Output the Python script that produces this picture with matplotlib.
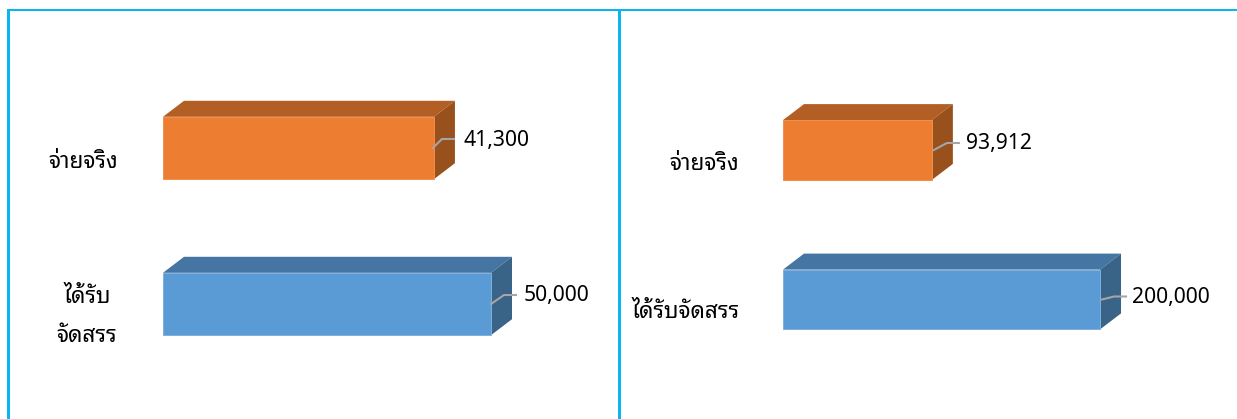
import matplotlib
matplotlib.use("Agg")
import matplotlib.pyplot as plt
from matplotlib.patches import Polygon, Rectangle

W, H = 1237, 419

plt.rcParams['font.family'] = ['Noto Sans', 'Noto Sans Thai Looped', 'Noto Sans Thai', 'Anuphan', 'DejaVu Sans']

# data, bottom bar first
left_labels = ["ได้รับ\nจัดสรร", "จ่ายจริง"]
left_values = [50000, 41300]
right_labels = ["ได้รับจัดสรร", "จ่ายจริง"]
right_values = [200000, 93912]

# front, top and side colours of the boxes
blue = ["#5B9BD5", "#4575A2", "#3A6388"]
orange = ["#ED7D31", "#B35E25", "#98501C"]
line_blue = "#7FB1DE"
line_orange = "#F08F4E"
border = "#0AB6F2"
leader = "#A5A5A5"


def box_chart(rect, xmax, labels, values, label_pos, value_pos, leaders, linespacing=1.0):
    # rect is left, top, right, bottom in picture pixels
    x0, top, x1, bottom = rect
    ax = fig.add_axes([x0 / W, 1 - bottom / H, (x1 - x0) / W, (bottom - top) / H])
    ax.set_xlim(0, xmax)
    ax.set_ylim(-0.5, 1.5)
    ax.axis("off")

    # pixels to data units on this axes
    px = xmax / (x1 - x0)
    py = 2 / (bottom - top)
    dx, dy = 21 * px, 16 * py
    h = 0.4

    for i, val in enumerate(values):
        front, topc, side = blue if i == 0 else orange
        edge = line_blue if i == 0 else line_orange
        lo, hi = i - h / 2, i + h / 2
        ax.barh(i, val, height=h, color=front, edgecolor=edge, linewidth=0.7, zorder=3)
        ax.add_patch(Polygon([(0, hi), (val, hi), (val + dx, hi + dy), (dx, hi + dy)],
                             facecolor=topc, edgecolor="none", zorder=2, clip_on=False))
        ax.add_patch(Polygon([(val, lo), (val + dx, lo + dy), (val + dx, hi + dy), (val, hi)],
                             facecolor=side, edgecolor="none", zorder=2, clip_on=False))

        # leader line, bent, from the end of the bar to the value
        pts = leaders[i]
        ax.plot([val + p[0] * px for p in pts], [i + p[1] * py for p in pts],
                color=leader, lw=1.5, zorder=4, clip_on=False, solid_joinstyle="round")
        ax.annotate(f"{val:,}", xy=(val, i), xytext=value_pos[i], textcoords="offset pixels",
                    ha="left", va="center", fontsize=15.2, color="black", annotation_clip=False)

        ax.annotate(labels[i], xy=(0, i), xytext=label_pos[i], textcoords="offset pixels",
                    ha="center", va="center", fontsize=16.2, color="black",
                    linespacing=linespacing, annotation_clip=False)
    return ax


fig = plt.figure(figsize=(W / 100, H / 100), dpi=100, facecolor="white")

box_chart((163, 70, 589.4, 382), 65000, left_labels, left_values,
          label_pos=[(-76, -13), (-80, -14)],
          value_pos=[(33, 8.5), (30, 8)],
          leaders=[[(0, 0), (13, 9), (25, 9)], [(-1, 0), (8, 9), (20, 9)]],
          linespacing=2.15)

box_chart((783, 75.25, 1211, 374.25), 270000, right_labels, right_values,
          label_pos=[(-97, -13), (-79, -14)],
          value_pos=[(32, 2), (34, 6.5)],
          leaders=[[(2, 0), (14, 3), (26, 3)], [(2, 0), (15, 7), (27, 7)]])

# panel border lines
for x, y, w, h in [(7, 9.3, 2.6, H), (617.5, 9.3, 3.4, H), (7, 9.3, W, 2.2)]:
    fig.add_artist(Rectangle((x / W, 1 - (y + h) / H), w / W, h / H, transform=fig.transFigure,
                             facecolor=border, edgecolor="none"))

fig.savefig("out.png", dpi=100, facecolor="white")
